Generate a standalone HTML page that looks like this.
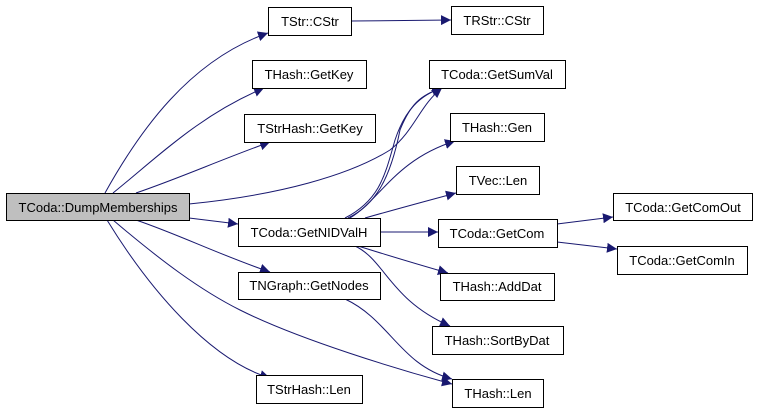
<!DOCTYPE html>
<html><head><meta charset="utf-8"><style>
html,body{margin:0;padding:0;background:#fff;width:757px;height:413px;overflow:hidden}
svg text{font-family:"Liberation Sans",sans-serif;font-size:13px;fill:#000}
</style></head><body>
<svg width="757" height="413" viewBox="0 0 757 413" xmlns="http://www.w3.org/2000/svg">
<defs><marker id="a" viewBox="0 0 10 10" refX="10" refY="5" markerWidth="10" markerHeight="10" markerUnits="userSpaceOnUse" orient="auto"><path d="M0,0L10,5L0,10z" fill="#191970"/></marker></defs>
<g fill="none" stroke="#191970" stroke-width="1" marker-end="url(#a)">
<path d="M105,193 C140,130 190,60 268,33"/>
<path d="M113,193 C160,155 200,115 264,88"/>
<path d="M136,193 C180,178 220,160 270,142"/>
<path d="M189,204 C280,195 350,175 390,150 C415,130 420,105 442,88"/>
<path d="M189,218 L238,224"/>
<path d="M136,220 C180,235 220,255 270,272"/>
<path d="M113,220 C160,260 200,290 240,310 C300,340 400,370 452,384"/>
<path d="M107,220 C150,290 210,360 270,378"/>
<path d="M351,21 L451,20"/>
<path d="M345,218 C380,200 385,175 395,140 C405,110 420,95 442,88"/>
<path d="M348,218 C375,205 390,180 400,130 C410,105 420,95 442,88"/>
<path d="M350,218 C380,200 395,160 455,141"/>
<path d="M365,218 C400,208 430,200 456,193"/>
<path d="M380,232 L438,232"/>
<path d="M358,246 C390,256 420,265 448,273"/>
<path d="M355,246 C385,260 390,300 450,326"/>
<path d="M345,299 C390,320 400,365 452,379"/>
<path d="M557,224 L613,217"/>
<path d="M557,242 L617,249"/>
</g>
<g stroke="#000" stroke-width="1" fill="#fff">
<rect x="6.5" y="193.5" width="183" height="27" fill="#bfbfbf"/>
<rect x="268.5" y="7.5" width="83" height="28"/>
<rect x="252.5" y="60.5" width="114" height="28"/>
<rect x="244.5" y="114.5" width="131" height="28"/>
<rect x="238.5" y="218.5" width="142" height="28"/>
<rect x="238.5" y="272.5" width="142" height="27"/>
<rect x="256.5" y="375.5" width="106" height="28"/>
<rect x="451.5" y="6.5" width="92" height="28"/>
<rect x="429.5" y="60.5" width="136" height="28"/>
<rect x="450.5" y="113.5" width="94" height="28"/>
<rect x="456.5" y="166.5" width="83" height="28"/>
<rect x="438.5" y="219.5" width="119" height="28"/>
<rect x="613.5" y="193.5" width="139" height="27"/>
<rect x="617.5" y="246.5" width="130" height="28"/>
<rect x="440.5" y="273.5" width="114" height="27"/>
<rect x="432.5" y="326.5" width="131" height="28"/>
<rect x="452.5" y="379.5" width="91" height="28"/>
</g>
<g text-anchor="middle">
<text x="98" y="212">TCoda::DumpMemberships</text>
<text x="310" y="26">TStr::CStr</text>
<text x="309" y="79">THash::GetKey</text>
<text x="310" y="133">TStrHash::GetKey</text>
<text x="309" y="237">TCoda::GetNIDValH</text>
<text x="309" y="290">TNGraph::GetNodes</text>
<text x="309" y="394">TStrHash::Len</text>
<text x="497" y="25">TRStr::CStr</text>
<text x="497" y="79">TCoda::GetSumVal</text>
<text x="497" y="132">THash::Gen</text>
<text x="498" y="185">TVec::Len</text>
<text x="497" y="238">TCoda::GetCom</text>
<text x="683" y="212">TCoda::GetComOut</text>
<text x="682" y="265">TCoda::GetComIn</text>
<text x="497" y="291">THash::AddDat</text>
<text x="497" y="345">THash::SortByDat</text>
<text x="498" y="398">THash::Len</text>
</g>
</svg>
</body></html>
